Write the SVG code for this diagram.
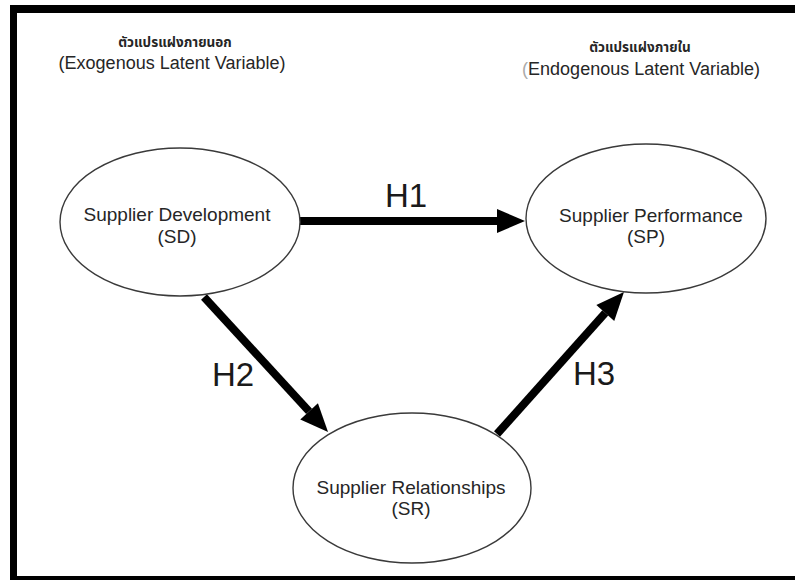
<svg xmlns="http://www.w3.org/2000/svg" width="795" height="581" viewBox="0 0 795 581">
<style>
.node{fill:#fff;stroke:#3a3a3a;stroke-width:1.4}
.nt{font-family:"Liberation Sans",Arial,sans-serif;font-size:19px;fill:#262626;text-anchor:middle}
.hd{font-family:"Liberation Sans",Arial,sans-serif;font-size:18px;fill:#262626;text-anchor:middle}
.th{font-family:"Noto Sans Thai","Noto Sans","DejaVu Sans",sans-serif;font-size:13.5px;font-weight:bold;fill:#262626;text-anchor:middle}
.hl{font-family:"Liberation Sans",Arial,sans-serif;font-size:33px;fill:#1a1a1a;text-anchor:middle}
.conn{stroke:#000;stroke-width:8;fill:none}
</style>
<defs>
<marker id="ah" markerUnits="userSpaceOnUse" markerWidth="28" markerHeight="24" refX="0" refY="12" orient="auto" overflow="visible">
<path d="M0,0 L28,12 L0,24 Z" fill="#000"/>
</marker>
</defs>
<rect width="795" height="581" fill="#fff"/>
<g id="frame" fill="#000">
<rect x="10" y="5" width="785" height="8"/>
<rect x="10" y="5" width="7" height="575"/>
<rect x="10" y="576" width="785" height="4"/>
</g>
<g id="header-exo">
<text class="th" x="175" y="47">ตัวแปรแฝงภายนอก</text>
<text class="hd" x="172" y="69">(Exogenous Latent Variable)</text>
</g>
<g id="header-endo">
<text class="th" x="640" y="52">ตัวแปรแฝงภายใน</text>
<text class="hd" x="641" y="75"><tspan fill="#aaa">(</tspan>Endogenous Latent Variable)</text>
</g>
<g id="connectors">
<line class="conn" x1="298" y1="221" x2="497" y2="221" marker-end="url(#ah)"/>
<line class="conn" x1="204" y1="297" x2="309.1" y2="411.4" marker-end="url(#ah)"/>
<line class="conn" x1="497" y1="434" x2="605.3" y2="312.9" marker-end="url(#ah)"/>
<text class="hl" x="406" y="207">H1</text>
<text class="hl" x="233" y="386">H2</text>
<text class="hl" x="594" y="385">H3</text>
</g>
<g id="SD">
<ellipse class="node" cx="180" cy="222" rx="120" ry="74"/>
<text class="nt" x="177" y="221">Supplier Development</text>
<text class="nt" x="177" y="243">(SD)</text>
</g>
<g id="SP">
<ellipse class="node" cx="646" cy="218.5" rx="120" ry="74.5"/>
<text class="nt" x="651" y="222">Supplier Performance</text>
<text class="nt" x="646" y="243">(SP)</text>
</g>
<g id="SR">
<ellipse class="node" cx="412" cy="488" rx="119" ry="75"/>
<text class="nt" x="411" y="494">Supplier Relationships</text>
<text class="nt" x="411" y="515">(SR)</text>
</g>
</svg>
